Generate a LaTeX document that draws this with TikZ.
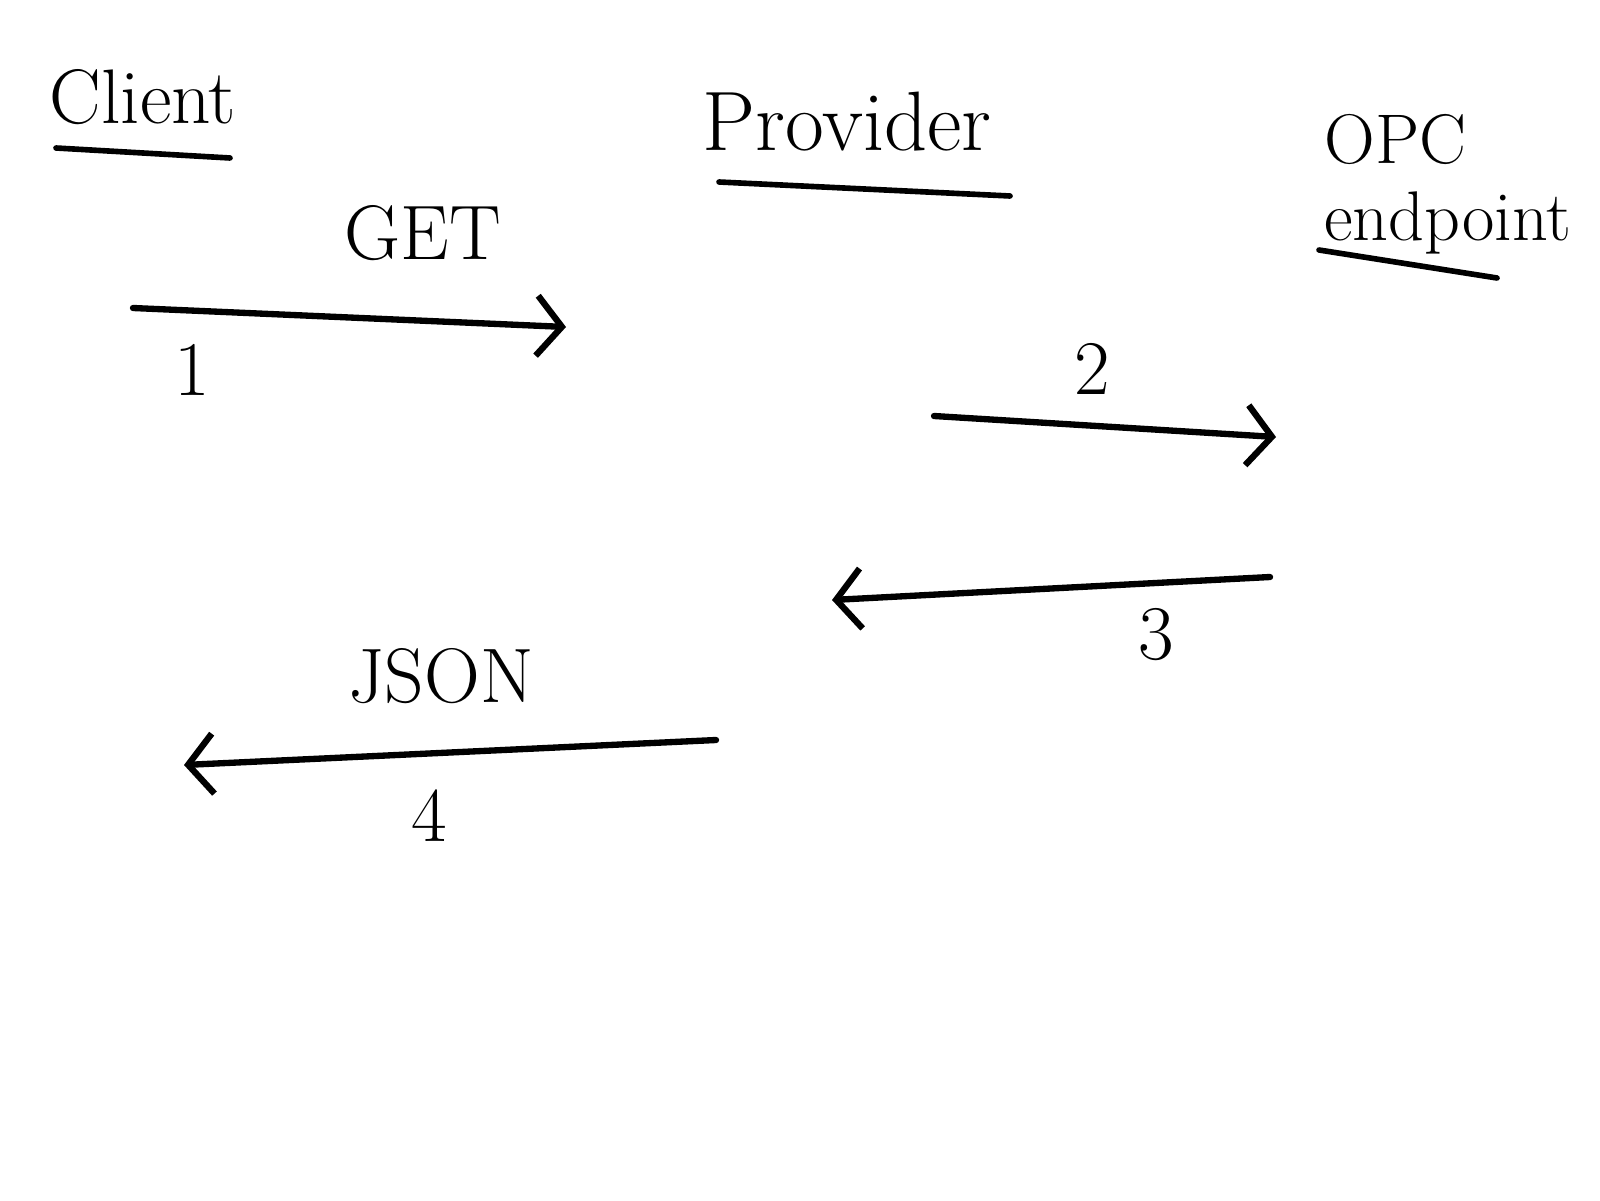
\documentclass[tikz,border=0pt]{standalone}
\usetikzlibrary{arrows.meta}

\tikzset{
  party/.style={font=\fontsize{24}{28}\selectfont},
  tag/.style={font=\fontsize{22}{26}\selectfont},
  msg/.style={-{Straight Barb[length=2.5mm,width=6mm]}, line width=1.8pt, line cap=round},
  uline/.style={line width=1.6pt, line cap=round}
}

\begin{document}
\begin{tikzpicture}
  \useasboundingbox (0,0) rectangle (16,12);

  \node (client) at (1.43, 11.03) [party, font=\fontsize{22}{26}\selectfont] {Client};
  \node (provider) at (8.47, 10.78) [party] {Provider};
  \node (opc) at (13.12, 10.98) [anchor=north west, align=left,
    font=\fontsize{20}{22}\selectfont] {OPC\\endpoint};

  \coordinate (cl1) at (0.56, 10.52);
  \coordinate (cl2) at (2.30, 10.42);
  \coordinate (pl1) at (7.19, 10.18);
  \coordinate (pl2) at (10.10, 10.04);
  \coordinate (ol1) at (13.19, 9.50);
  \coordinate (ol2) at (14.97, 9.22);
  \draw[uline] (cl1) to (cl2);
  \draw[uline] (pl1) to (pl2);
  \draw[uline] (ol1) to (ol2);

  \coordinate (a1s) at (1.33, 8.92);
  \coordinate (a1e) at (5.66, 8.73);
  \coordinate (a2s) at (9.34, 7.84);
  \coordinate (a2e) at (12.76, 7.63);
  \coordinate (a3s) at (12.70, 6.23);
  \coordinate (a3e) at (8.32, 6.00);
  \coordinate (a4s) at (7.16, 4.60);
  \coordinate (a4e) at (1.84, 4.35);

  \draw[msg] (a1s) to (a1e);
  \draw[msg] (a2s) to (a2e);
  \draw[msg] (a3s) to (a3e);
  \draw[msg] (a4s) to (a4e);

  \node (get) at (4.23, 9.67) [tag] {GET};
  \node (one) at (1.92, 8.30) [tag] {1};
  \node (two) at (10.92, 8.31) [tag] {2};
  \node (three) at (11.56, 5.65) [tag] {3};
  \node (json) at (4.41, 5.24) [tag] {JSON};
  \node (four) at (4.29, 3.84) [tag] {4};
\end{tikzpicture}
\end{document}
